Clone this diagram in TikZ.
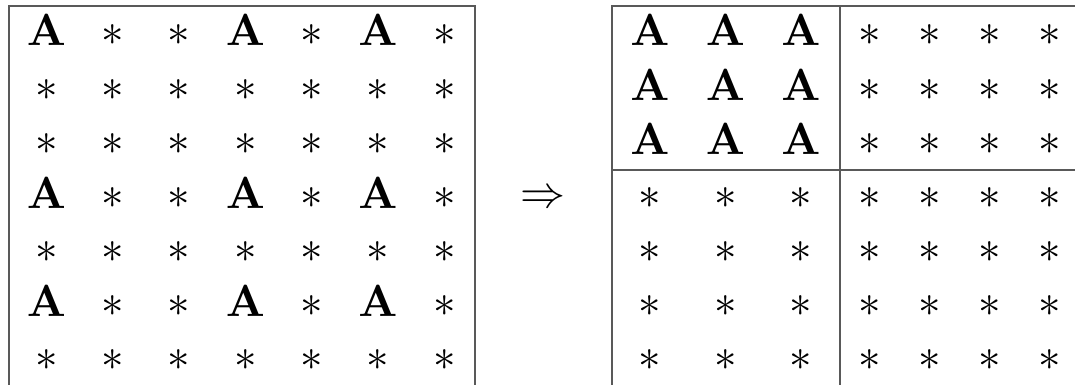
\documentclass[tikz,border=0pt]{standalone}
\newcommand{\bigA}{\scalebox{4.5}{$\mathbf{A}$}}
\newcommand{\bigS}{\scalebox{4.5}{$\ast$}}
\begin{document}
\begin{tikzpicture}[x=1pt,y=-1pt,
  cell/.style={anchor=base,inner sep=0pt},
  frame/.style={line width=2pt,draw=black!65}]
\useasboundingbox (0,0) rectangle (1075,385);
% left matrix
\foreach \r in {1,...,7}{
  \foreach \c in {1,...,7}{
    \pgfmathsetmacro{\yy}{46+54.1*(\r-1)}
    \pgfmathsetmacro{\xx}{46.5+66.3*(\c-1)}
    \pgfmathtruncatemacro{\isA}{((\r==1)||(\r==4)||(\r==6))&&((\c==1)||(\c==4)||(\c==6))}
    \ifnum\isA=1
      \node[cell] (L-\r-\c) at (\xx,\yy) {\bigA};
    \else
      \node[cell] (L-\r-\c) at (\xx,\yy) {\bigS};
    \fi
  }
}
\draw[frame] (9,385) -- (9,6) -- (475,6) -- (475,385);
% arrow
\node[cell] (arr) at (543,207) {\scalebox{4.5}{$\Rightarrow$}};
% right matrix
\foreach \r in {1,...,7}{
  \foreach \c in {1,2,3}{
    \pgfmathsetmacro{\yy}{46+54.1*(\r-1)}
    \pgfmathsetmacro{\xx}{650+75.5*(\c-1)}
    \ifnum\r<4
      \node[cell] (R-\r-\c) at (\xx,\yy) {\bigA};
    \else
      \node[cell] (R-\r-\c) at (\xx,\yy) {\bigS};
    \fi
  }
  \foreach \c in {4,...,7}{
    \pgfmathsetmacro{\yy}{46+54.1*(\r-1)}
    \pgfmathsetmacro{\xx}{870+60*(\c-4)}
    \node[cell] (R-\r-\c) at (\xx,\yy) {\bigS};
  }
}
\draw[frame] (612,385) -- (612,6) -- (1075,6);
\draw[frame] (840,6) -- (840,385);
\draw[frame] (612,170) -- (1075,170);
\end{tikzpicture}
\end{document}
